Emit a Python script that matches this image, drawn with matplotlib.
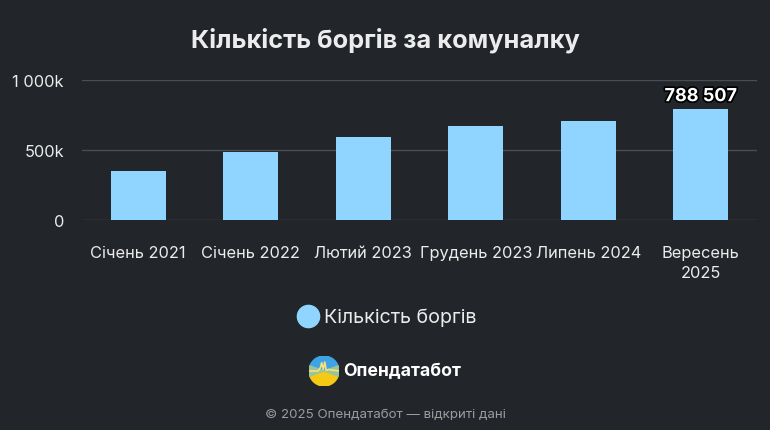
import matplotlib
matplotlib.use("Agg")
import matplotlib.pyplot as plt
import matplotlib.patheffects as pe
from matplotlib.patches import Wedge
import numpy as np

plt.rcParams['font.family'] = ['Inter', 'DejaVu Sans']

categories = ["Січень 2021", "Січень 2022", "Лютий 2023", "Грудень 2023", "Липень 2024", "Вересень\n2025"]
values = [346000, 484000, 595000, 668000, 704000, 788507]
series_name = "Кількість боргів"
title = "Кількість боргів за комуналку"
ytick_vals = [0, 500000, 1000000]
ytick_labels = ["0", "500k", "1 000k"]

BG = "#222529"
BAR = "#8fd5ff"
TXT = "#ececec"
GRID = "#4a4d52"

fig = plt.figure(figsize=(7.7, 4.31), dpi=100, facecolor=BG)
ax = fig.add_axes([82/770, 1-221/431, 675/770, (221-80.7)/431])
ax.set_facecolor(BG)
x = np.arange(len(categories))
ax.bar(x, values, width=0.49, color=BAR, zorder=3)
ax.set_xlim(-0.5, len(categories)-0.5)
ax.set_ylim(0, 1000000)
ax.set_yticks(ytick_vals)
ax.set_yticklabels(ytick_labels)
ax.set_xticks(x)
ax.set_xticklabels(categories, linespacing=1.45)
ax.tick_params(axis='both', length=0, colors=TXT, labelsize=11.8)
ax.tick_params(axis='y', pad=13)
ax.tick_params(axis='x', pad=18)
ax.grid(axis='y', color=GRID, linewidth=1, zorder=0)
for s in ax.spines.values():
    s.set_visible(False)

ax.text(x[-1], values[-1] + 30000, f"{values[-1]:,}".replace(",", " "), ha='center', va='bottom',
        color='white', fontsize=13, fontweight='bold',
        path_effects=[pe.withStroke(linewidth=2.5, foreground='black')])

fig.text(0.5, 1-40/431, title, ha='center', va='center', color=TXT, fontsize=18.3, fontweight='bold')

# legend marker
fig.add_artist(plt.Line2D([308/770], [1-317/431], marker='o', markersize=16, color=BAR,
                          linestyle='none', transform=fig.transFigure))
fig.text(324/770, 1-318/431, series_name, ha='left', va='center', color=TXT, fontsize=14.2)

# logo
lax = fig.add_axes([309/770, 1-387/431, 30/770, 30/431])
lax.set_xlim(-1, 1); lax.set_ylim(-1, 1); lax.set_aspect('equal'); lax.axis('off')
lax.add_patch(Wedge((0, 0), 1, 0, 180, color="#3fa3e6"))
lax.add_patch(Wedge((0, 0), 1, 180, 360, color="#f6c915"))
lax.add_patch(Wedge((0, 0), 1, 160, 200, color="#9cc49a"))
lax.add_patch(Wedge((0, 0), 1, -20, 20, color="#9cc49a"))
lax.plot([-1, -0.4, -0.25, -0.15, -0.05, 0.05, 0.15, 0.3, 1], [0, 0, 0.2, 0.55, 0.1, 0.6, 0.05, 0.1, 0],
         color="#f6e27a", lw=1.2)
fig.text(343/770, 1-372/431, "Опендатабот", ha='left', va='center', color='white', fontsize=12.7, fontweight='bold')

fig.text(0.5, 1-415/431, "© 2025 Опендатабот — відкриті дані", ha='center', va='center', color="#9a9ca0", fontsize=9.6)

fig.savefig("out.png", dpi=100, facecolor=BG)
